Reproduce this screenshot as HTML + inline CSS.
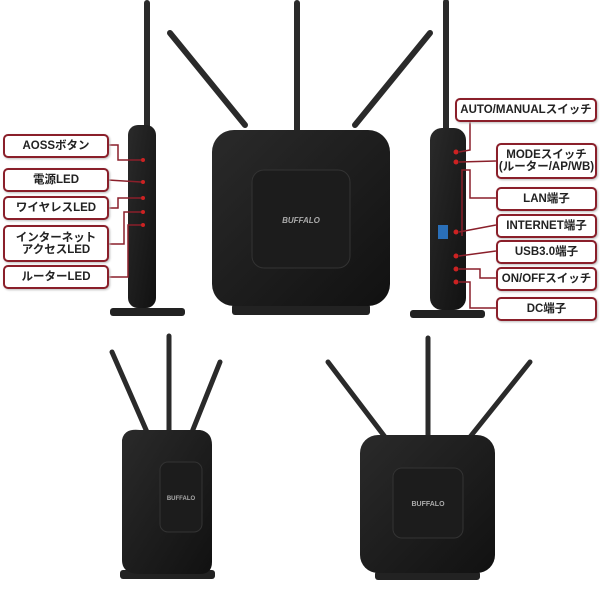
<!DOCTYPE html>
<html><head><meta charset="utf-8"><style>
body{margin:0;background:#fff;width:600px;height:600px;overflow:hidden;position:relative;font-family:"Liberation Sans","Noto Sans CJK JP",sans-serif}
.l{position:absolute;border:2px solid #8a1f2a;border-radius:5px;background:#fff;box-sizing:border-box;display:flex;align-items:center;justify-content:center;text-align:center;font-size:11.5px;font-weight:bold;color:#222;line-height:12px;box-shadow:1px 1px 2px #bbb;white-space:nowrap}
svg{position:absolute;left:0;top:0}
</style></head><body>
<svg width="600" height="600">
<defs>
<linearGradient id="g" x1="0" y1="0" x2="1" y2="1"><stop offset="0" stop-color="#2a2a2a"/><stop offset="1" stop-color="#111"/></linearGradient>
</defs>
<g stroke="#2a2a2a" stroke-linecap="round">
<line x1="147" y1="3" x2="147" y2="128" stroke-width="6"/>
<line x1="297" y1="3" x2="297" y2="130" stroke-width="6"/>
<line x1="170" y1="33" x2="245" y2="125" stroke-width="6"/>
<line x1="430" y1="33" x2="355" y2="125" stroke-width="6"/>
<line x1="446" y1="2" x2="446" y2="130" stroke-width="6"/>
<line x1="112" y1="352" x2="147" y2="432" stroke-width="5"/>
<line x1="169" y1="336" x2="169" y2="432" stroke-width="5"/>
<line x1="220" y1="362" x2="192" y2="432" stroke-width="5"/>
<line x1="428" y1="338" x2="428" y2="437" stroke-width="5"/>
<line x1="328" y1="362" x2="385" y2="437" stroke-width="5"/>
<line x1="530" y1="362" x2="470" y2="437" stroke-width="5"/>
</g>
<rect x="110" y="308" width="75" height="8" rx="3" fill="#222"/>
<rect x="128" y="125" width="28" height="183" rx="10" fill="url(#g)"/>
<g fill="#c22">
<circle cx="143" cy="160" r="2"/><circle cx="143" cy="182" r="2"/><circle cx="143" cy="198" r="2"/><circle cx="143" cy="212" r="2"/><circle cx="143" cy="225" r="2"/></g>
<rect x="232" y="304" width="138" height="11" rx="3" fill="#222"/>
<rect x="212" y="130" width="178" height="176" rx="22" fill="url(#g)"/>
<rect x="252" y="170" width="98" height="98" rx="12" fill="#1c1c1c" stroke="#333"/>
<text x="301" y="223" font-size="8" fill="#aaa" text-anchor="middle" font-style="italic" font-weight="bold">BUFFALO</text>
<rect x="410" y="310" width="75" height="8" rx="3" fill="#222"/>
<rect x="430" y="128" width="36" height="182" rx="12" fill="url(#g)"/>
<rect x="438" y="225" width="10" height="14" fill="#2a6fb8"/>
<g fill="#c22"><circle cx="456" cy="152" r="2.5"/><circle cx="456" cy="162" r="2.5"/><circle cx="456" cy="232" r="2.5"/><circle cx="456" cy="256" r="2.5"/><circle cx="456" cy="269" r="2.5"/><circle cx="456" cy="282" r="2.5"/></g>
<g fill="none" stroke="#8a1f2a" stroke-width="1.5">
<polyline points="108,145 118,145 118,160 141,160"/>
<polyline points="108,180 141,182"/>
<polyline points="108,208 118,208 118,198 141,198"/>
<polyline points="108,244 124,244 124,212 141,212"/>
<polyline points="108,277 128,277 128,225 141,225"/>
<polyline points="470,121 470,150 459,152"/>
<polyline points="496,161 459,162"/>
<polyline points="496,198 470,198 470,170 462,170 462,236"/>
<polyline points="496,225 459,232"/>
<polyline points="496,251 459,256"/>
<polyline points="496,278 480,278 480,269 459,269"/>
<polyline points="496,308 470,308 470,282 459,282"/>
</g>
<rect x="120" y="570" width="95" height="9" rx="3" fill="#222"/>
<path d="M122 440 Q124 428 140 430 L200 430 Q212 432 212 445 L212 562 Q212 574 200 574 L140 574 Q122 574 122 560 Z" fill="url(#g)"/>
<rect x="160" y="462" width="42" height="70" rx="8" fill="#1c1c1c" stroke="#333"/>
<text x="181" y="500" font-size="6" fill="#aaa" text-anchor="middle" font-weight="bold">BUFFALO</text>
<rect x="375" y="571" width="105" height="9" rx="3" fill="#222"/>
<rect x="360" y="435" width="135" height="138" rx="18" fill="url(#g)"/>
<rect x="393" y="468" width="70" height="70" rx="9" fill="#1c1c1c" stroke="#333"/>
<text x="428" y="506" font-size="7" fill="#aaa" text-anchor="middle" font-weight="bold">BUFFALO</text>
</svg>
<div class="l" style="left:3px;top:134px;width:106px;height:24px">AOSSボタン</div>
<div class="l" style="left:3px;top:168px;width:106px;height:24px">電源LED</div>
<div class="l" style="left:3px;top:196px;width:106px;height:24px">ワイヤレスLED</div>
<div class="l" style="left:3px;top:225px;width:106px;height:37px">インターネット<br>アクセスLED</div>
<div class="l" style="left:3px;top:265px;width:106px;height:24px">ルーターLED</div>
<div class="l" style="left:455px;top:98px;width:142px;height:24px">AUTO/MANUALスイッチ</div>
<div class="l" style="left:496px;top:143px;width:101px;height:36px">MODEスイッチ<br>(ルーター/AP/WB)</div>
<div class="l" style="left:496px;top:187px;width:101px;height:24px">LAN端子</div>
<div class="l" style="left:496px;top:214px;width:101px;height:24px">INTERNET端子</div>
<div class="l" style="left:496px;top:240px;width:101px;height:24px">USB3.0端子</div>
<div class="l" style="left:496px;top:267px;width:101px;height:24px">ON/OFFスイッチ</div>
<div class="l" style="left:496px;top:297px;width:101px;height:24px">DC端子</div>
</body></html>
